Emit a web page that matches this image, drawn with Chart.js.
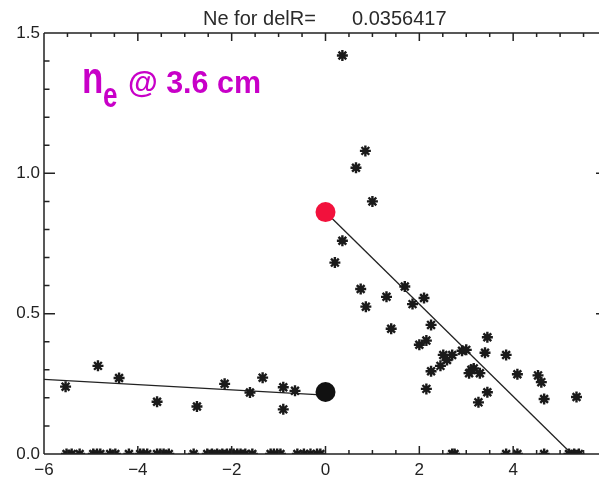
<!DOCTYPE html>
<html>
<head>
<meta charset="utf-8">
<title>Ne for delR</title>
<script src="https://cdn.jsdelivr.net/npm/chart.js@4.4.1/dist/chart.umd.min.js"></script>
<style>
  html, body { margin: 0; padding: 0; background: #fff; overflow: hidden; }
  canvas { display: block; }
</style>
</head>
<body>
<!-- le cadre IDL depasse un peu a droite (x = 6 hors image) -->
<canvas id="neChart" width="607" height="482"></canvas>
<script>
// valeurs
const titleLabel = "Ne for delR=";
const titleValue = "0.0356417";

// points non nuls
const ptX = [0.36, 0.85, 0.65, 1.0, 0.36, 0.2, 0.75, 0.86, 1.30, 1.69, 1.855, 2.10, 1.40, 2.25, 2.0, 2.15,
  3.45, 2.51, 2.70, 2.59, 2.91, 3.0, 3.40, 3.85, 2.45, 2.25, 3.06, 3.16, 3.29, 3.11, 4.09, 4.53, 4.60,
  2.15, 3.45, 3.26, 4.66, 5.35,
  -5.54, -4.85, -4.40, -3.59, -2.74, -2.15, -1.61, -1.34, -0.90, -0.90, -0.65];
const ptY = [1.42, 1.08, 1.02, 0.90, 0.76, 0.682, 0.588, 0.525, 0.56, 0.597, 0.534, 0.556, 0.446, 0.46, 0.389, 0.404,
  0.416, 0.353, 0.353, 0.335, 0.368, 0.371, 0.361, 0.353, 0.314, 0.295, 0.288, 0.305, 0.288, 0.30, 0.284, 0.28, 0.256,
  0.232, 0.22, 0.184, 0.196, 0.203,
  0.24, 0.314, 0.271, 0.186, 0.169, 0.25, 0.219, 0.272, 0.238, 0.159, 0.225];

// points a zero (sur l'axe)
const zeroX = [-5.52, -5.41, -5.24, -4.95, -4.87, -4.80, -4.59, -4.48, -4.19, -3.95, -3.88, -3.80, -3.59,
  -3.52, -3.45, -3.34, -2.81, -2.52, -2.42, -2.31, -2.20, -2.10, -2.03, -1.96, -1.88, -1.81, -1.71, -1.56,
  -1.17, -1.10, -1.03, -0.96, -0.60, -0.46, -0.32, -0.18, -0.11, 2.70, 2.75, 3.85, 4.09, 4.66, 5.19, 5.30, 5.40];

// droites d'ajustement
const leftFitX = [-6, 0];
const leftFitY = [0.266, 0.21];
const rightFitX = [0, 5.25];
const rightFitY = [0.862, 0];

// les deux cercles en x=0
const redX = [0], redY = [0.862];
const blackX = [0], blackY = [0.221];

const yTicks = [0, 0.5, 1.0, 1.5];
const xTicks = [-6, -4, -2, 0, 2, 4];

const toXY = (xs, ys) => xs.map((x, i) => ({ x: x, y: ys[i] }));

// cadre + graduations facon IDL
const idlFrame = {
  id: "idlFrame",
  afterDatasetsDraw(chart) {
    const ctx = chart.ctx, a = chart.chartArea;
    const xs = chart.scales.x, ys = chart.scales.y;
    ctx.save();
    ctx.strokeStyle = "#222";
    ctx.lineWidth = 1.5;
    ctx.beginPath();
    ctx.moveTo(a.left, a.top); ctx.lineTo(a.right, a.top);
    ctx.moveTo(a.left, a.top); ctx.lineTo(a.left, a.bottom);
    ctx.moveTo(a.left, a.bottom); ctx.lineTo(a.right, a.bottom);
    ctx.moveTo(a.right, a.top); ctx.lineTo(a.right, a.bottom);
    for (let i = 0; i <= 24; i++) {
      const v = -6 + i * 0.5;
      const px = xs.getPixelForValue(v);
      const len = (i % 4 === 0) ? 8 : 4;
      ctx.moveTo(px, a.bottom); ctx.lineTo(px, a.bottom - len);
      ctx.moveTo(px, a.top); ctx.lineTo(px, a.top + len);
    }
    for (let i = 0; i <= 15; i++) {
      const py = ys.getPixelForValue(i * 0.1);
      const len = (i % 5 === 0) ? 11 : 5.5;
      ctx.moveTo(a.left, py); ctx.lineTo(a.left + len, py);
      ctx.moveTo(a.right, py); ctx.lineTo(a.right - len, py);
    }
    ctx.stroke();

    // titre
    ctx.fillStyle = "#2a2a2a";
    ctx.font = '20px "Liberation Sans", Arial, sans-serif';
    ctx.textAlign = "left";
    ctx.textBaseline = "alphabetic";
    ctx.fillText(titleLabel, 203, 25);
    ctx.fillText(titleValue, 352, 25);

    // etiquette magenta n_e @ 3.6 cm
    ctx.fillStyle = "#c800c8";
    ctx.save();
    ctx.font = 'bold 36px "Liberation Sans", Arial, sans-serif';
    ctx.translate(82, 93);
    ctx.scale(0.97, 1.22);
    ctx.fillText("n", 0, 0);
    ctx.restore();
    ctx.save();
    ctx.font = 'bold 26px "Liberation Sans", Arial, sans-serif';
    ctx.translate(103, 107);
    ctx.scale(1, 1.32);
    ctx.fillText("e", 0, 0);
    ctx.restore();
    ctx.font = 'bold 32px "Liberation Sans", Arial, sans-serif';
    ctx.fillText("@ 3.6 cm", 128, 93, 133);
    ctx.restore();
  }
};

const ctx = document.getElementById("neChart").getContext("2d");
const neChart = new Chart(ctx, {
  type: "scatter",
  data: {
    datasets: [
      {
        label: "red",
        data: toXY(redX, redY),
        pointStyle: "circle",
        pointRadius: 10,
        backgroundColor: "#f2113c",
        borderColor: "#f2113c",
        borderWidth: 0
      },
      {
        label: "red ring",
        data: toXY(redX, redY),
        pointStyle: "circle",
        pointRadius: 6.5,
        backgroundColor: "rgba(0,0,0,0)",
        borderColor: "rgba(255,190,200,0.8)",
        borderWidth: 1
      },
      {
        label: "black",
        data: toXY(blackX, blackY),
        pointStyle: "circle",
        pointRadius: 10,
        backgroundColor: "#111",
        borderColor: "#111",
        borderWidth: 0
      },
      {
        label: "black ring",
        data: toXY(blackX, blackY),
        pointStyle: "circle",
        pointRadius: 6.5,
        backgroundColor: "rgba(0,0,0,0)",
        borderColor: "#666",
        borderWidth: 1
      },
      {
        label: "points",
        data: toXY(ptX, ptY).concat(zeroX.map(x => ({ x: x, y: 0 }))),
        pointStyle: "star",
        pointRadius: 5.5,
        borderColor: "#1a1a1a",
        backgroundColor: "#1a1a1a",
        borderWidth: 2.4,
        clip: 0
      },
      {
        type: "line",
        label: "fit gauche",
        data: toXY(leftFitX, leftFitY),
        borderColor: "#222",
        borderWidth: 1.3,
        pointRadius: 0,
        fill: false
      },
      {
        type: "line",
        label: "fit droite",
        data: toXY(rightFitX, rightFitY),
        borderColor: "#222",
        borderWidth: 1.3,
        pointRadius: 0,
        fill: false
      }
    ]
  },
  options: {
    responsive: false,
    animation: false,
    devicePixelRatio: 1,
    layout: { autoPadding: false, padding: { top: 33, right: 0, left: 0, bottom: 0 } },
    plugins: {
      legend: { display: false },
      tooltip: { enabled: false },
      title: { display: false }
    },
    scales: {
      x: {
        type: "linear",
        min: -6,
        max: 6,
        grid: { display: false, drawTicks: false, tickLength: 0 },
        border: { display: false },
        afterFit: (s) => { s.height = 28; s.paddingLeft = 0; s.paddingRight = 0; },
        afterBuildTicks: (s) => { s.ticks = xTicks.map(v => ({ value: v })); },
        ticks: {
          padding: 6,
          color: "#222",
          font: { family: '"Liberation Sans", Arial, sans-serif', size: 17 },
          callback: (v) => v < 0 ? "\u2212" + Math.abs(v) : String(v)
        }
      },
      y: {
        type: "linear",
        min: 0,
        max: 1.5,
        grid: { display: false, drawTicks: false, tickLength: 0 },
        border: { display: false },
        afterFit: (s) => { s.width = 44; s.paddingTop = 0; s.paddingBottom = 0; },
        afterBuildTicks: (s) => { s.ticks = yTicks.map(v => ({ value: v })); },
        ticks: {
          padding: 4,
          color: "#222",
          font: { family: '"Liberation Sans", Arial, sans-serif', size: 17 },
          callback: (v) => Number(v).toFixed(1)
        }
      }
    }
  },
  plugins: [idlFrame]
});
</script>
</body>
</html>
